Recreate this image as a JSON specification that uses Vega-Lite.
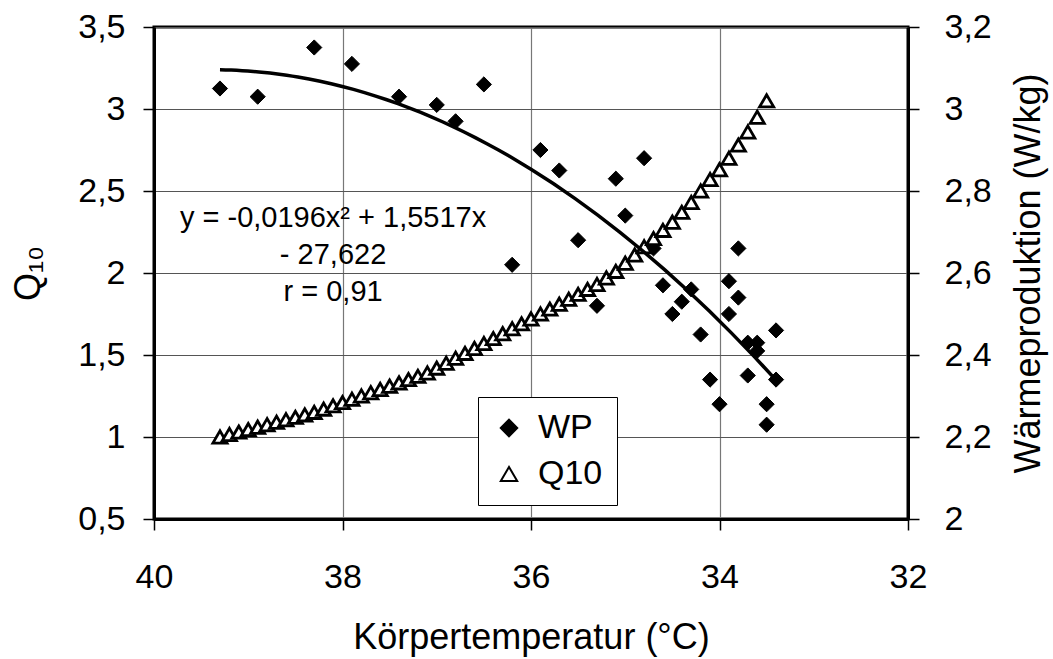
{
  "$schema": "https://vega.github.io/schema/vega-lite/v6.json",
  "width": 754,
  "height": 492,
  "autosize": {"type": "none"},
  "padding": {"left": 154, "top": 27, "right": 145, "bottom": 140},
  "background": "white",
  "config": {
    "font": "Liberation Sans",
    "view": {"stroke": "black", "strokeWidth": 3},
    "axis": {
      "labelFont": "Liberation Sans",
      "titleFont": "Liberation Sans",
      "labelFontSize": 34,
      "titleFontSize": 36,
      "titleFontWeight": "normal",
      "labelColor": "black",
      "titleColor": "black",
      "domainColor": "black",
      "domainWidth": 3,
      "tickColor": "black",
      "tickWidth": 1.5,
      "tickSize": 11,
      "gridOpacity": 1,
      "gridWidth": 1.2
    },
    "legend": {
      "symbolStrokeColor": "black",
      "symbolStrokeWidth": 2
    }
  },
  "datasets": {
    "wp": [
      {"T": 39.3, "WP": 3.05, "series": "WP"},
      {"T": 38.9, "WP": 3.03, "series": "WP"},
      {"T": 38.3, "WP": 3.15, "series": "WP"},
      {"T": 37.9, "WP": 3.11, "series": "WP"},
      {"T": 37.4, "WP": 3.03, "series": "WP"},
      {"T": 37.0, "WP": 3.01, "series": "WP"},
      {"T": 36.8, "WP": 2.97, "series": "WP"},
      {"T": 36.5, "WP": 3.06, "series": "WP"},
      {"T": 36.2, "WP": 2.62, "series": "WP"},
      {"T": 35.9, "WP": 2.90, "series": "WP"},
      {"T": 35.7, "WP": 2.85, "series": "WP"},
      {"T": 35.5, "WP": 2.68, "series": "WP"},
      {"T": 35.3, "WP": 2.52, "series": "WP"},
      {"T": 35.1, "WP": 2.83, "series": "WP"},
      {"T": 35.0, "WP": 2.74, "series": "WP"},
      {"T": 34.8, "WP": 2.88, "series": "WP"},
      {"T": 34.7, "WP": 2.66, "series": "WP"},
      {"T": 34.6, "WP": 2.57, "series": "WP"},
      {"T": 34.5, "WP": 2.50, "series": "WP"},
      {"T": 34.4, "WP": 2.53, "series": "WP"},
      {"T": 34.3, "WP": 2.56, "series": "WP"},
      {"T": 34.2, "WP": 2.45, "series": "WP"},
      {"T": 34.1, "WP": 2.34, "series": "WP"},
      {"T": 34.0, "WP": 2.28, "series": "WP"},
      {"T": 33.9, "WP": 2.58, "series": "WP"},
      {"T": 33.9, "WP": 2.50, "series": "WP"},
      {"T": 33.8, "WP": 2.66, "series": "WP"},
      {"T": 33.8, "WP": 2.54, "series": "WP"},
      {"T": 33.7, "WP": 2.43, "series": "WP"},
      {"T": 33.7, "WP": 2.35, "series": "WP"},
      {"T": 33.6, "WP": 2.43, "series": "WP"},
      {"T": 33.6, "WP": 2.41, "series": "WP"},
      {"T": 33.5, "WP": 2.28, "series": "WP"},
      {"T": 33.5, "WP": 2.23, "series": "WP"},
      {"T": 33.4, "WP": 2.46, "series": "WP"},
      {"T": 33.4, "WP": 2.34, "series": "WP"}
    ],
    "q10": [
      {"T": 39.3, "Q": 1.00, "series": "Q10"},
      {"T": 39.2, "Q": 1.015, "series": "Q10"},
      {"T": 39.1, "Q": 1.03, "series": "Q10"},
      {"T": 39.0, "Q": 1.045, "series": "Q10"},
      {"T": 38.9, "Q": 1.06, "series": "Q10"},
      {"T": 38.8, "Q": 1.075, "series": "Q10"},
      {"T": 38.7, "Q": 1.09, "series": "Q10"},
      {"T": 38.6, "Q": 1.105, "series": "Q10"},
      {"T": 38.5, "Q": 1.12, "series": "Q10"},
      {"T": 38.4, "Q": 1.135, "series": "Q10"},
      {"T": 38.3, "Q": 1.15, "series": "Q10"},
      {"T": 38.2, "Q": 1.17, "series": "Q10"},
      {"T": 38.1, "Q": 1.19, "series": "Q10"},
      {"T": 38.0, "Q": 1.21, "series": "Q10"},
      {"T": 37.9, "Q": 1.23, "series": "Q10"},
      {"T": 37.8, "Q": 1.25, "series": "Q10"},
      {"T": 37.7, "Q": 1.27, "series": "Q10"},
      {"T": 37.6, "Q": 1.29, "series": "Q10"},
      {"T": 37.5, "Q": 1.31, "series": "Q10"},
      {"T": 37.4, "Q": 1.33, "series": "Q10"},
      {"T": 37.3, "Q": 1.35, "series": "Q10"},
      {"T": 37.2, "Q": 1.37, "series": "Q10"},
      {"T": 37.1, "Q": 1.39, "series": "Q10"},
      {"T": 37.0, "Q": 1.42, "series": "Q10"},
      {"T": 36.9, "Q": 1.45, "series": "Q10"},
      {"T": 36.8, "Q": 1.48, "series": "Q10"},
      {"T": 36.7, "Q": 1.51, "series": "Q10"},
      {"T": 36.6, "Q": 1.54, "series": "Q10"},
      {"T": 36.5, "Q": 1.57, "series": "Q10"},
      {"T": 36.4, "Q": 1.60, "series": "Q10"},
      {"T": 36.3, "Q": 1.63, "series": "Q10"},
      {"T": 36.2, "Q": 1.66, "series": "Q10"},
      {"T": 36.1, "Q": 1.69, "series": "Q10"},
      {"T": 36.0, "Q": 1.72, "series": "Q10"},
      {"T": 35.9, "Q": 1.75, "series": "Q10"},
      {"T": 35.8, "Q": 1.78, "series": "Q10"},
      {"T": 35.7, "Q": 1.81, "series": "Q10"},
      {"T": 35.6, "Q": 1.84, "series": "Q10"},
      {"T": 35.5, "Q": 1.87, "series": "Q10"},
      {"T": 35.4, "Q": 1.90, "series": "Q10"},
      {"T": 35.3, "Q": 1.93, "series": "Q10"},
      {"T": 35.2, "Q": 1.97, "series": "Q10"},
      {"T": 35.1, "Q": 2.01, "series": "Q10"},
      {"T": 35.0, "Q": 2.06, "series": "Q10"},
      {"T": 34.9, "Q": 2.11, "series": "Q10"},
      {"T": 34.8, "Q": 2.16, "series": "Q10"},
      {"T": 34.7, "Q": 2.21, "series": "Q10"},
      {"T": 34.6, "Q": 2.26, "series": "Q10"},
      {"T": 34.5, "Q": 2.31, "series": "Q10"},
      {"T": 34.4, "Q": 2.37, "series": "Q10"},
      {"T": 34.3, "Q": 2.43, "series": "Q10"},
      {"T": 34.2, "Q": 2.50, "series": "Q10"},
      {"T": 34.1, "Q": 2.57, "series": "Q10"},
      {"T": 34.0, "Q": 2.63, "series": "Q10"},
      {"T": 33.9, "Q": 2.70, "series": "Q10"},
      {"T": 33.8, "Q": 2.78, "series": "Q10"},
      {"T": 33.7, "Q": 2.86, "series": "Q10"},
      {"T": 33.6, "Q": 2.95, "series": "Q10"},
      {"T": 33.5, "Q": 3.05, "series": "Q10"}
    ]
  },
  "layer": [
    {
      "data": {"values": [{"note": "y = -0,0196x² + 1,5517x\n- 27,622\nr = 0,91", "T": 38.1, "Q": 2.335}]},
      "mark": {"type": "text", "font": "Liberation Sans", "fontSize": 29, "lineBreak": "\n", "lineHeight": 37, "align": "center", "baseline": "middle", "color": "black"},
      "encoding": {
        "x": {
          "field": "T", "type": "quantitative",
          "scale": {"domain": [32, 40], "reverse": true, "nice": false, "zero": false},
          "axis": {
            "values": [32, 34, 36, 38, 40],
            "format": "d",
            "grid": true,
            "gridColor": "#777",
            "labelPadding": 30,
            "labelFlush": false,
            "labelOverlap": false,
            "title": "Körpertemperatur (°C)",
            "titleX": 377,
            "titleY": 118,
            "titleBaseline": "middle",
            "titleAlign": "center"
          }
        },
        "y": {"field": "Q", "type": "quantitative", "scale": {"domain": [0.5, 3.5], "nice": false, "zero": false}, "axis": null},
        "text": {"field": "note"}
      }
    },
    {
      "data": {"name": "wp"},
      "mark": {"type": "point", "filled": true, "strokeWidth": 1, "size": 230, "opacity": 1},
      "encoding": {
        "x": {"field": "T", "type": "quantitative", "scale": {"domain": [32, 40], "reverse": true, "nice": false, "zero": false}},
        "y": {
          "field": "WP", "type": "quantitative",
          "scale": {"domain": [2, 3.2], "nice": false, "zero": false},
          "axis": {
            "orient": "right",
            "values": [2, 2.2, 2.4, 2.6, 2.8, 3, 3.2],
            "labelExpr": "replace(format(datum.value, '.1~f'), '.', ',')",
            "grid": false,
            "labelPadding": 25,
            "labelFlush": false,
            "title": "Wärmeproduktion (W/kg)",
            "titleAngle": 270,
            "titleX": 120,
            "titleY": 246,
            "titleBaseline": "middle",
            "titleAlign": "center"
          }
        },
        "shape": {
          "field": "series", "type": "nominal",
          "scale": {"domain": ["WP", "Q10"], "range": ["diamond", "triangle-up"]},
          "legend": {
            "orient": "none",
            "legendX": 324,
            "legendY": 370,
            "title": null,
            "labelFont": "Liberation Sans",
            "labelFontSize": 34,
            "labelColor": "black",
            "symbolSize": 270,
            "symbolStrokeColor": "black",
            "symbolStrokeWidth": 2,
            "padding": 14,
            "strokeColor": "black",
            "fillColor": "white",
            "labelOffset": 12,
            "rowPadding": 12
          }
        },
        "fill": {
          "field": "series", "type": "nominal",
          "scale": {"domain": ["WP", "Q10"], "range": ["black", "white"]}
        },
        "stroke": {
          "field": "series", "type": "nominal",
          "scale": {"domain": ["WP", "Q10"], "range": ["black", "black"]}
        }
      }
    },
    {
      "data": {"name": "q10"},
      "mark": {"type": "point", "filled": true, "strokeWidth": 2.8, "size": 200, "opacity": 1},
      "encoding": {
        "x": {"field": "T", "type": "quantitative", "scale": {"domain": [32, 40], "reverse": true, "nice": false, "zero": false}},
        "y": {
          "field": "Q", "type": "quantitative",
          "scale": {"domain": [0.5, 3.5], "nice": false, "zero": false},
          "axis": {
            "orient": "left",
            "values": [0.5, 1, 1.5, 2, 2.5, 3, 3.5],
            "labelExpr": "replace(format(datum.value, '.1~f'), '.', ',')",
            "grid": true,
            "gridColor": "#555",
            "labelPadding": 18,
            "labelFlush": false,
            "title": "Q₁₀",
            "titleAngle": 270,
            "titleX": -126,
            "titleY": 246,
            "titleBaseline": "middle",
            "titleAlign": "center"
          }
        },
        "shape": {"field": "series", "type": "nominal"},
        "fill": {"field": "series", "type": "nominal"},
        "stroke": {"field": "series", "type": "nominal"}
      }
    },
    {
      "data": {"name": "wp"},
      "transform": [{"regression": "WP", "on": "T", "method": "poly", "order": 2}],
      "mark": {"type": "line", "color": "black", "strokeWidth": 3.5},
      "encoding": {
        "x": {"field": "T", "type": "quantitative", "scale": {"domain": [32, 40], "reverse": true, "nice": false, "zero": false}},
        "y": {"field": "WP", "type": "quantitative", "scale": {"domain": [2, 3.2], "nice": false, "zero": false}, "axis": null}
      }
    }
  ],
  "resolve": {"scale": {"y": "independent"}}
}
